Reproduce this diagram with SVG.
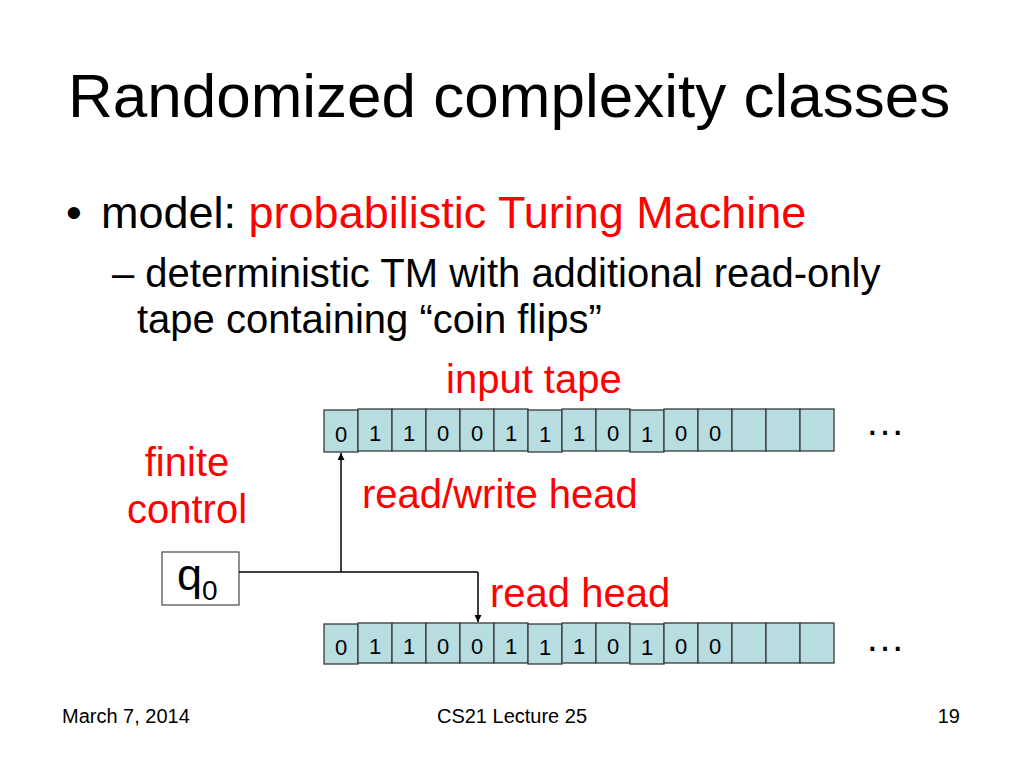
<svg xmlns="http://www.w3.org/2000/svg" width="1024" height="768" viewBox="0 0 1024 768">
<style>
text{font-family:"Liberation Sans",Arial,sans-serif}
.t{font-size:62px;fill:#000}
.b{font-size:45px;fill:#000}
.s{font-size:40px;fill:#000}
.r{fill:#FF0000}
.lbl{font-size:40px;fill:#FF0000}
.cell{fill:#B7DDE0;stroke:#3a3a3a;stroke-width:1.3}
.d{font-size:22px;fill:#000;text-anchor:middle}
.f{font-size:20px;fill:#000}
.ln{stroke:#000;stroke-width:1.5;fill:none}
</style>
<defs>
<marker id="ah" viewBox="0 0 10 10" refX="10" refY="5" markerWidth="7" markerHeight="7" orient="auto" markerUnits="userSpaceOnUse"><path d="M0,0 L10,5 L0,10 z" fill="#000"/></marker>
</defs>
<rect width="1024" height="768" fill="#fff"/>
<text class="t" x="68" y="117">Randomized complexity classes</text>
<text class="b" x="66" y="228">•</text>
<text class="b" x="101" y="228">model: <tspan class="r">probabilistic Turing Machine</tspan></text>
<text class="s" x="112" y="287">– deterministic TM with additional read-only</text>
<text class="s" x="137" y="333">tape containing “coin flips”</text>
<text class="lbl" x="446" y="393">input tape</text>
<text class="lbl" x="187" y="476" text-anchor="middle">finite</text>
<text class="lbl" x="187" y="523" text-anchor="middle">control</text>
<text class="lbl" x="362" y="508">read/write head</text>
<text class="lbl" x="490" y="607">read head</text>
<g id="input-tape">
<rect class="cell" x="324" y="410" width="34" height="42"/>
<rect class="cell" x="358" y="409" width="34" height="42"/>
<rect class="cell" x="392" y="409" width="34" height="42"/>
<rect class="cell" x="426" y="409" width="34" height="42"/>
<rect class="cell" x="460" y="409" width="34" height="42"/>
<rect class="cell" x="494" y="409" width="34" height="42"/>
<rect class="cell" x="528" y="410" width="34" height="42"/>
<rect class="cell" x="562" y="409" width="34" height="42"/>
<rect class="cell" x="596" y="409" width="34" height="42"/>
<rect class="cell" x="630" y="410" width="34" height="42"/>
<rect class="cell" x="664" y="409" width="34" height="42"/>
<rect class="cell" x="698" y="409" width="34" height="42"/>
<rect class="cell" x="732" y="409" width="34" height="42"/>
<rect class="cell" x="766" y="409" width="34" height="42"/>
<rect class="cell" x="800" y="409" width="34" height="42"/>
<text class="d" x="341" y="442">0</text>
<text class="d" x="375" y="441">1</text>
<text class="d" x="409" y="441">1</text>
<text class="d" x="443" y="441">0</text>
<text class="d" x="477" y="441">0</text>
<text class="d" x="511" y="441">1</text>
<text class="d" x="545" y="442">1</text>
<text class="d" x="579" y="441">1</text>
<text class="d" x="613" y="441">0</text>
<text class="d" x="647" y="442">1</text>
<text class="d" x="681" y="441">0</text>
<text class="d" x="715" y="441">0</text>
<text class="s" x="865" y="435">…</text>
</g>
<g id="coin-tape">
<rect class="cell" x="324" y="624" width="34" height="40"/>
<rect class="cell" x="358" y="623" width="34" height="40"/>
<rect class="cell" x="392" y="623" width="34" height="40"/>
<rect class="cell" x="426" y="623" width="34" height="40"/>
<rect class="cell" x="460" y="623" width="34" height="40"/>
<rect class="cell" x="494" y="623" width="34" height="40"/>
<rect class="cell" x="528" y="624" width="34" height="40"/>
<rect class="cell" x="562" y="623" width="34" height="40"/>
<rect class="cell" x="596" y="623" width="34" height="40"/>
<rect class="cell" x="630" y="624" width="34" height="40"/>
<rect class="cell" x="664" y="623" width="34" height="40"/>
<rect class="cell" x="698" y="623" width="34" height="40"/>
<rect class="cell" x="732" y="623" width="34" height="40"/>
<rect class="cell" x="766" y="623" width="34" height="40"/>
<rect class="cell" x="800" y="623" width="34" height="40"/>
<text class="d" x="341" y="655">0</text>
<text class="d" x="375" y="654">1</text>
<text class="d" x="409" y="654">1</text>
<text class="d" x="443" y="654">0</text>
<text class="d" x="477" y="654">0</text>
<text class="d" x="511" y="654">1</text>
<text class="d" x="545" y="655">1</text>
<text class="d" x="579" y="654">1</text>
<text class="d" x="613" y="654">0</text>
<text class="d" x="647" y="655">1</text>
<text class="d" x="681" y="654">0</text>
<text class="d" x="715" y="654">0</text>
<text class="s" x="865" y="651">…</text>
</g>
<g id="finite-control">
<rect x="162" y="552" width="77" height="53" fill="#fff" stroke="#555" stroke-width="1.3"/>
<text x="177" y="590" font-size="45">q<tspan font-size="28" dy="10">0</tspan></text>
</g>
<g id="connectors">
<path class="ln" d="M239,572 H478"/>
<path class="ln" d="M341,572 V453" marker-end="url(#ah)"/>
<path class="ln" d="M478,572 V622" marker-end="url(#ah)"/>
</g>
<text class="f" x="62" y="723">March 7, 2014</text>
<text class="f" x="512" y="723" text-anchor="middle">CS21 Lecture 25</text>
<text class="f" x="960" y="723" text-anchor="end">19</text>
</svg>
